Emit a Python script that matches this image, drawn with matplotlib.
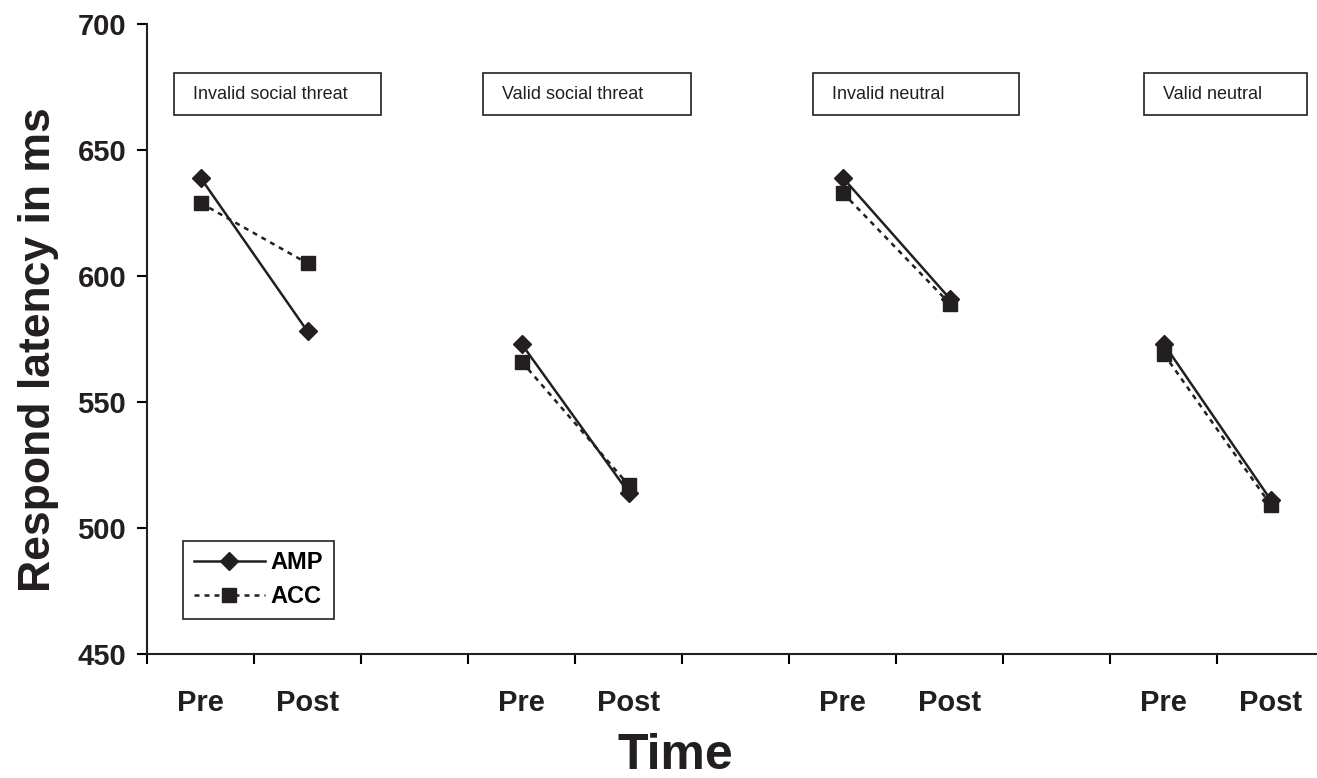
import numpy as np
import matplotlib
matplotlib.use('Agg')
import matplotlib.pyplot as plt
from matplotlib.patches import Rectangle

plt.rcParams['font.family'] = ['Liberation Sans', 'DejaVu Sans']

# data
conditions = ['Invalid social threat', 'Valid social threat', 'Invalid neutral', 'Valid neutral']
time_labels = ['Pre', 'Post', '', 'Pre', 'Post', '', 'Pre', 'Post', '', 'Pre', 'Post']
amp_pre = [639, 573, 639, 573]
amp_post = [578, 514, 591, 511]
acc_pre = [629, 566, 633, 569]
acc_post = [605, 517, 589, 509]

# layout of the condition boxes (x left, x right in category units)
box_x = [(-0.25, 1.69), (2.64, 4.58), (5.72, 7.65), (8.81, 10.34)]

fig = plt.figure(figsize=(13.17, 7.78), dpi=100)
ax = fig.add_axes([0.1116, 0.1594, 0.8884, 0.8098])

for i in range(len(conditions)):
    x = [3 * i, 3 * i + 1]
    ax.plot(x, [acc_pre[i], acc_post[i]], color='#231f20', lw=1.8, ls=(0, (2, 2)),
            marker='s', markersize=10, label='ACC' if i == 0 else None, zorder=2)
    ax.plot(x, [amp_pre[i], amp_post[i]], color='#231f20', lw=1.8, ls='-',
            marker='D', markersize=9, label='AMP' if i == 0 else None, zorder=3)

for (x0, x1), name in zip(box_x, conditions):
    ax.add_patch(Rectangle((x0, 663.9), x1 - x0, 16.7, fill=False, ec='#231f20', lw=1.2))
    ax.text(x0 + 0.18, 672.2, name, fontsize=13, va='center', ha='left', color='#231f20')

ax.set_ylim(450, 700)
ax.set_xlim(-0.5, 10.43)
ax.set_yticks(np.arange(450, 701, 50))
ax.set_xticks(np.arange(-0.5, 10, 1.0))
ax.set_xticklabels([])
ax.set_xticks(np.arange(len(time_labels)), minor=True)
ax.set_xticklabels(time_labels, minor=True)
ax.tick_params(axis='x', which='minor', length=0, pad=25, labelsize=21)
ax.tick_params(axis='x', which='major', length=7, width=1.5)
ax.tick_params(axis='y', length=7, width=1.5, labelsize=21, pad=8)
for lab in ax.get_xticklabels(minor=True) + ax.get_yticklabels():
    lab.set_fontweight('bold')
    lab.set_color('#231f20')

for s in ['top', 'right']:
    ax.spines[s].set_visible(False)
for s in ['left', 'bottom']:
    ax.spines[s].set_linewidth(1.5)
    ax.spines[s].set_color('#231f20')

ax.set_xlabel('Time', fontsize=36, fontweight='bold', color='#231f20')
ax.xaxis.set_label_coords(0.452, -0.125)
ax.set_ylabel('Respond latency in ms', fontsize=32, fontweight='bold', color='#231f20')
ax.yaxis.set_label_coords(-0.075, 0.483)

handles, labels = ax.get_legend_handles_labels()
leg = ax.legend(handles[::-1], labels[::-1], loc='lower left', bbox_to_anchor=(0.031, 0.056),
                fancybox=False, edgecolor='#231f20', framealpha=1, handlelength=3.0,
                borderpad=0.45, labelspacing=0.45, handletextpad=0.25, borderaxespad=0,
                prop={'size': 17, 'weight': 'bold'})
leg.get_frame().set_linewidth(1.2)

fig.savefig('out.png', dpi=100)
